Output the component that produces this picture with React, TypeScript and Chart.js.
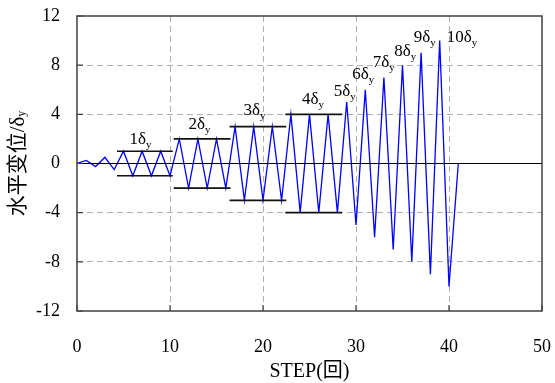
import React, { useEffect, useRef } from "react";
import { Chart, registerables } from "chart.js";

Chart.register(...registerables);

// ---- data ----
const steps = [0, 1, 2, 3, 4, 5, 6, 7, 8, 9, 10, 11, 12, 13, 14, 15, 16, 17, 18, 19, 20, 21, 22, 23, 24, 25, 26, 27, 28, 29, 30, 31, 32, 33, 34, 35, 36, 37, 38, 39, 40, 41];
const displacement = [0, 0.25, -0.25, 0.5, -0.5, 1, -1, 1, -1, 1, -1, 2, -2, 2, -2, 2, -2, 3, -3, 3, -3, 3, -3, 4, -4, 4, -4, 4, -4, 5, -5, 6, -6, 7, -7, 8, -8, 9, -9, 10, -10, 0];

const levelAmplitudes = [1, 2, 3, 4];
const levelStart = [4.3, 10.4, 16.4, 22.4];
const levelEnd = [10.3, 16.5, 22.5, 28.5];

const labelNumbers = ["1", "2", "3", "4", "5", "6", "7", "8", "9", "10"];
const labelX = [5.64, 12.0, 17.9, 24.2, 27.6, 29.6, 31.8, 34.1, 36.2, 39.75];
const labelY = [1.55, 2.83, 3.92, 4.82, 5.47, 6.86, 7.84, 8.73, 9.85, 9.85];

const xTicks = [0, 10, 20, 30, 40, 50];
const yTicks = [-12, -8, -4, 0, 4, 8, 12];

const xTitle = "STEP(回)";
const yTitleMain = "水平变位/δ";
const yTitleSub = "y";

const SERIF = "'Liberation Serif', 'Times New Roman', 'Noto Sans CJK SC', serif";

const overlayPlugin = {
  id: "overlay",
  afterDatasetsDraw(chart: any) {
    const { ctx, chartArea } = chart;
    const xs = chart.scales.x;
    const ys = chart.scales.y;
    ctx.save();
    // frame
    ctx.strokeStyle = "#404040";
    ctx.lineWidth = 1.5;
    ctx.setLineDash([]);
    ctx.strokeRect(chartArea.left, chartArea.top, chartArea.right - chartArea.left, chartArea.bottom - chartArea.top);
    // inward ticks
    ctx.lineWidth = 1.2;
    ctx.beginPath();
    for (const v of yTicks) {
      const py = ys.getPixelForValue(v);
      ctx.moveTo(chartArea.left, py);
      ctx.lineTo(chartArea.left + 6, py);
    }
    for (const v of xTicks) {
      const px = xs.getPixelForValue(v);
      ctx.moveTo(px, chartArea.bottom);
      ctx.lineTo(px, chartArea.bottom - 6);
    }
    ctx.stroke();
    // amplitude labels
    ctx.fillStyle = "#000";
    ctx.textBaseline = "alphabetic";
    ctx.textAlign = "left";
    for (let i = 0; i < labelNumbers.length; i++) {
      const px = xs.getPixelForValue(labelX[i]);
      const py = ys.getPixelForValue(labelY[i]);
      ctx.font = `17px ${SERIF}`;
      const main = labelNumbers[i] + "δ";
      ctx.fillText(main, px, py);
      const w = ctx.measureText(main).width;
      ctx.font = `11px ${SERIF}`;
      ctx.fillText("y", px + w, py + 4);
    }
    ctx.restore();
  },
  afterDraw(chart: any) {
    const { ctx, chartArea } = chart;
    ctx.save();
    const cy = (chartArea.top + chartArea.bottom) / 2;
    const cx = 18;
    ctx.translate(cx, cy);
    ctx.rotate(-Math.PI / 2);
    ctx.fillStyle = "#000";
    ctx.textBaseline = "middle";
    ctx.textAlign = "left";
    ctx.font = `21px ${SERIF}`;
    const w1 = ctx.measureText(yTitleMain).width;
    ctx.font = `12px ${SERIF}`;
    const w2 = ctx.measureText(yTitleSub).width;
    const start = -(w1 + w2) / 2;
    ctx.font = `21px ${SERIF}`;
    ctx.fillText(yTitleMain, start, 0);
    ctx.font = `12px ${SERIF}`;
    ctx.fillText(yTitleSub, start + w1, 4);
    ctx.restore();
  },
};

export default function App() {
  const canvasRef = useRef<HTMLCanvasElement | null>(null);

  useEffect(() => {
    if (!canvasRef.current) return;
    const datasets: any[] = [];
    datasets.push({
      label: "zero",
      data: [
        { x: xTicks[0], y: 0 },
        { x: xTicks[xTicks.length - 1], y: 0 },
      ],
      borderColor: "#000",
      borderWidth: 1.2,
      pointRadius: 0,
    });
    levelAmplitudes.forEach((a, i) => {
      [a, -a].forEach((v) => {
        datasets.push({
          label: "level",
          data: [
            { x: levelStart[i], y: v },
            { x: levelEnd[i], y: v },
          ],
          borderColor: "#111",
          borderWidth: 1.6,
          pointRadius: 0,
        });
      });
    });
    datasets.push({
      label: "displacement",
      data: steps.map((s, i) => ({ x: s, y: displacement[i] })),
      borderColor: "#0000ff",
      borderWidth: 1.3,
      pointRadius: 0,
      tension: 0,
    });

    const chart = new Chart(canvasRef.current, {
      type: "line",
      data: { datasets },
      options: {
        animation: false,
        responsive: true,
        maintainAspectRatio: false,
        layout: { padding: { top: 16, right: 13, left: 0, bottom: 0 } },
        plugins: { legend: { display: false }, tooltip: { enabled: false } },
        scales: {
          x: {
            type: "linear",
            min: 0,
            max: 50,
            afterFit: (s: any) => {
              s.height = 72;
              s.paddingLeft = 0;
              s.paddingRight = 0;
              s.paddingTop = 0;
              s.paddingBottom = 0;
            },
            afterBuildTicks: (s: any) => {
              s.ticks = xTicks.map((v) => ({ value: v }));
            },
            ticks: {
              padding: 25,
              color: "#000",
              font: { family: SERIF, size: 18 },
              maxRotation: 0,
            },
            grid: {
              drawTicks: false,
              color: (c: any) => (c.tick && (c.tick.value === 0 || c.tick.value === 50) ? "rgba(0,0,0,0)" : "#b0b0b0"),
              lineWidth: 1,
            },
            border: { display: false, dash: [6, 4] },
            title: {
              display: true,
              text: xTitle,
              color: "#000",
              font: { family: SERIF, size: 20, lineHeight: 1 },
              padding: { top: 0, bottom: 1 },
            },
          },
          y: {
            type: "linear",
            min: -12,
            max: 12,
            afterFit: (s: any) => {
              s.width = 77;
              s.paddingLeft = 0;
              s.paddingRight = 0;
              s.paddingTop = 0;
              s.paddingBottom = 0;
            },
            afterBuildTicks: (s: any) => {
              s.ticks = yTicks.map((v) => ({ value: v }));
            },
            ticks: {
              padding: 17,
              color: "#000",
              font: { family: SERIF, size: 18 },
            },
            grid: {
              drawTicks: false,
              color: (c: any) =>
                c.tick && (c.tick.value === 0 || c.tick.value === 12 || c.tick.value === -12) ? "rgba(0,0,0,0)" : "#b0b0b0",
              lineWidth: 1,
            },
            border: { display: false, dash: [6, 4] },
          },
        },
      },
      plugins: [overlayPlugin],
    });
    return () => chart.destroy();
  }, []);

  return (
    <div style={{ position: "fixed", left: 0, top: 0, width: 555, height: 383 }}>
      <canvas ref={canvasRef} />
    </div>
  );
}
